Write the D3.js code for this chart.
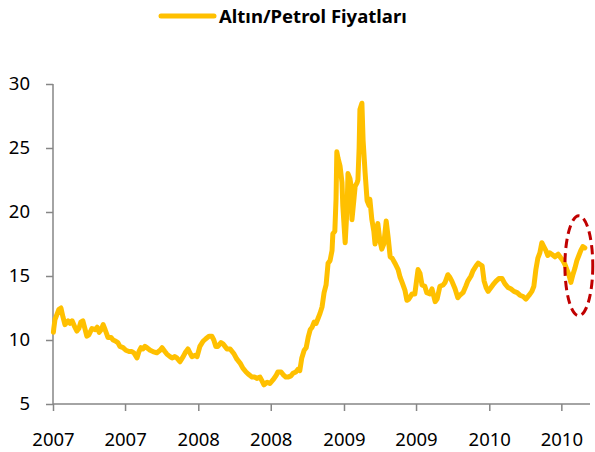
<!DOCTYPE html>
<html>
<head>
<meta charset="utf-8">
<script src="https://cdn.jsdelivr.net/npm/d3@7"></script>
<style>
body { margin: 0; background: white; }
text { font-family: "Noto Sans", "Open Sans", sans-serif; }
</style>
</head>
<body>
<script>
var seriesName = "Altın/Petrol Fiyatları"

var dates = [
  "2007-01-02","2007-01-03","2007-01-06","2007-01-11","2007-01-16","2007-01-21","2007-01-26","2007-01-31",
  "2007-02-08","2007-02-13","2007-02-18","2007-02-25","2007-03-02","2007-03-07","2007-03-12","2007-03-17",
  "2007-03-22","2007-03-27","2007-04-01","2007-04-09","2007-04-17","2007-04-22","2007-04-27","2007-05-02",
  "2007-05-07","2007-05-12","2007-05-19","2007-05-27","2007-06-01","2007-06-08","2007-06-13","2007-06-18",
  "2007-06-26","2007-07-03","2007-07-11","2007-07-18","2007-07-23","2007-07-31","2007-08-05","2007-08-10",
  "2007-08-15","2007-08-20","2007-08-25","2007-09-02","2007-09-09","2007-09-19","2007-09-27","2007-10-02",
  "2007-10-09","2007-10-14","2007-10-22","2007-10-27","2007-11-03","2007-11-08","2007-11-16","2007-11-24",
  "2007-11-29","2007-12-06","2007-12-11","2007-12-16","2007-12-24","2007-12-29",
  "2008-01-05","2008-01-13","2008-01-20","2008-01-28","2008-02-04","2008-02-09","2008-02-14","2008-02-19",
  "2008-02-27","2008-03-03","2008-03-08","2008-03-13","2008-03-21","2008-03-26","2008-03-31","2008-04-07",
  "2008-04-15","2008-04-22","2008-04-30","2008-05-07","2008-05-15","2008-05-22","2008-05-27","2008-06-04",
  "2008-06-09","2008-06-14","2008-06-22","2008-06-29","2008-07-07","2008-07-14","2008-07-19","2008-07-27",
  "2008-08-01","2008-08-08","2008-08-13","2008-08-21","2008-08-26","2008-09-02","2008-09-07","2008-09-12",
  "2008-09-17","2008-09-23","2008-09-28","2008-10-03","2008-10-08","2008-10-13","2008-10-18","2008-10-23",
  "2008-10-28","2008-11-02","2008-11-07","2008-11-12","2008-11-17","2008-11-22","2008-11-27","2008-12-02",
  "2008-12-04","2008-12-09","2008-12-12","2008-12-14","2008-12-17","2008-12-22","2008-12-27","2008-12-29",
  "2009-01-04","2009-01-09","2009-01-11","2009-01-16","2009-01-19","2009-01-21","2009-01-26","2009-01-29",
  "2009-02-03","2009-02-05","2009-02-08","2009-02-10","2009-02-15","2009-02-18","2009-02-23","2009-02-28",
  "2009-03-05","2009-03-07","2009-03-12","2009-03-17","2009-03-20","2009-03-25","2009-03-27","2009-04-01",
  "2009-04-06","2009-04-11","2009-04-17","2009-04-22","2009-04-27","2009-05-02","2009-05-09","2009-05-17",
  "2009-05-22","2009-05-27","2009-06-03","2009-06-08","2009-06-13","2009-06-21","2009-06-28","2009-07-03",
  "2009-07-06","2009-07-11","2009-07-16","2009-07-23","2009-07-28","2009-08-05","2009-08-10","2009-08-18",
  "2009-08-23","2009-08-30","2009-09-07","2009-09-12","2009-09-19","2009-09-24","2009-09-29","2009-10-07",
  "2009-10-14","2009-10-19","2009-10-27","2009-11-03","2009-11-08","2009-11-16","2009-11-21","2009-11-29",
  "2009-12-04","2009-12-09","2009-12-14","2009-12-19","2009-12-24","2009-12-29",
  "2010-01-03","2010-01-10","2010-01-18","2010-01-25","2010-02-02","2010-02-09","2010-02-17","2010-02-24",
  "2010-03-04","2010-03-12","2010-03-19","2010-03-27","2010-04-03","2010-04-11","2010-04-18","2010-04-23",
  "2010-04-28","2010-05-03","2010-05-08","2010-05-13","2010-05-18","2010-05-23","2010-05-28","2010-06-02",
  "2010-06-07","2010-06-15","2010-06-23","2010-06-30","2010-07-05","2010-07-10","2010-07-15","2010-07-20",
  "2010-07-25","2010-07-30","2010-08-04","2010-08-09","2010-08-14","2010-08-19","2010-08-24","2010-08-29"
]

var ratios = [
  10.6,10.9,11.6,12.0,12.4,12.5,11.8,11.2,
  11.5,11.3,11.5,11.0,10.7,10.9,11.4,11.5,
  10.9,10.3,10.4,10.9,10.8,11.0,10.6,10.8,
  11.2,10.8,10.2,10.2,10.0,9.9,9.8,9.5,
  9.4,9.2,9.1,9.1,9.0,8.6,9.1,9.4,
  9.3,9.5,9.4,9.2,9.1,9.0,9.2,9.4,
  9.1,8.9,8.7,8.6,8.7,8.6,8.3,8.7,
  9.0,9.3,9.0,8.7,8.8,8.7,
  9.5,9.9,10.1,10.3,10.3,10.0,9.5,9.5,
  9.8,9.7,9.5,9.3,9.3,9.1,8.9,8.5,
  8.2,7.8,7.5,7.3,7.1,7.1,7.0,7.1,
  6.8,6.5,6.7,6.6,6.9,7.2,7.5,7.5,
  7.3,7.1,7.1,7.2,7.4,7.5,7.7,7.6,
  8.6,9.2,9.4,10.2,10.8,11.0,11.4,11.3,
  11.7,12.1,12.6,13.7,14.3,16.0,16.2,17.0,
  18.3,18.5,21.0,24.7,24.2,23.6,22.3,20.5,
  17.6,20.5,23.0,22.6,22.0,19.4,21.0,22.0,
  22.3,22.5,25.0,28.0,28.5,25.6,23.1,20.9,
  20.5,21.0,19.4,18.5,17.5,18.5,19.1,17.8,
  17.1,17.5,19.3,18.0,16.5,16.4,16.0,15.5,
  14.9,14.5,13.9,13.1,13.2,13.6,13.6,14.8,
  15.5,15.2,14.3,14.2,13.7,13.6,14.0,13.0,
  13.2,14.2,14.3,14.5,15.1,14.9,14.6,14.0,
  13.3,13.5,13.7,14.2,14.6,15.0,15.4,15.8,
  16.0,15.9,15.8,14.6,14.1,13.8,
  14.0,14.3,14.6,14.8,14.8,14.4,14.1,14.0,
  13.8,13.7,13.5,13.4,13.2,13.5,13.8,14.2,
  15.5,16.4,16.8,17.6,17.3,17.0,16.6,16.8,
  16.7,16.5,16.7,16.4,16.2,15.9,15.5,15.1,
  14.5,15.1,15.6,16.2,16.6,17.0,17.3,17.2
]

var yTicks = [5, 10, 15, 20, 25, 30]
var xRange = ["2007-01-01", "2010-09-11"]
// kirmizi elips: tarih ve deger araligi
var circleDates = ["2010-07-10", "2010-09-18"]
var circleValues = [11.9, 19.7]

var parse = d3.timeParse("%Y-%m-%d")
var veri = dates.map(function(d, i) { return { t: parse(d), v: ratios[i] } })

var cialo = d3.select("body")
var obrazek = cialo.append("svg")
  .attr("width", 595)
  .attr("height", 452)

var x = d3.scaleTime().domain(xRange.map(parse)).range([53, 590])
var y = d3.scaleLinear().domain([5, 30]).range([404, 84])

var osX = d3.axisBottom(x)
  .ticks(d3.timeMonth.every(6))
  .tickFormat(d3.timeFormat("%Y"))
  .tickSize(7)
  .tickPadding(22)
var osY = d3.axisLeft(y)
  .tickValues(yTicks)
  .tickSize(7)
  .tickPadding(16)

var gX = obrazek.append("g").attr("transform", "translate(0,404)").call(osX)
var gY = obrazek.append("g").attr("transform", "translate(53,0)").call(osY)

obrazek.selectAll(".domain").attr("stroke", "#868686").attr("stroke-width", 1.5)
obrazek.selectAll(".tick line").attr("stroke", "#868686").attr("stroke-width", 1.5)
obrazek.selectAll(".tick text")
  .style("font-family", "'Noto Sans', sans-serif")
  .style("font-size", "18.5px")
  .attr("fill", "#000")
// osie bez koncowych kreski
gY.select(".domain").attr("d", "M0,84V404")
gX.select(".domain").attr("d", "M53,0H590")

var linia = d3.line()
  .x(function(d) { return x(d.t) })
  .y(function(d) { return y(d.v) })

obrazek.append("path")
  .datum(veri)
  .attr("d", linia)
  .style("fill", "none")
  .style("stroke", "#FFC000")
  .style("stroke-width", 5)
  .style("stroke-linejoin", "round")
  .style("stroke-linecap", "round")

var cx = (x(parse(circleDates[0])) + x(parse(circleDates[1]))) / 2
var cy = (y(circleValues[0]) + y(circleValues[1])) / 2
obrazek.append("ellipse")
  .attr("cx", cx)
  .attr("cy", cy)
  .attr("rx", (x(parse(circleDates[1])) - x(parse(circleDates[0]))) / 2)
  .attr("ry", (y(circleValues[0]) - y(circleValues[1])) / 2)
  .style("fill", "none")
  .style("stroke", "#C00000")
  .style("stroke-width", 3)
  .style("stroke-dasharray", "9,5")

// legenda
var legenda = obrazek.append("g")
legenda.append("line")
  .attr("x1", 161).attr("x2", 214)
  .attr("y1", 16).attr("y2", 16)
  .style("stroke", "#FFC000")
  .style("stroke-width", 5)
  .style("stroke-linecap", "round")
legenda.append("text")
  .attr("x", 219)
  .attr("y", 23)
  .style("font-size", "18.5px")
  .style("font-weight", "bold")
  .text(seriesName)
</script>
</body>
</html>
